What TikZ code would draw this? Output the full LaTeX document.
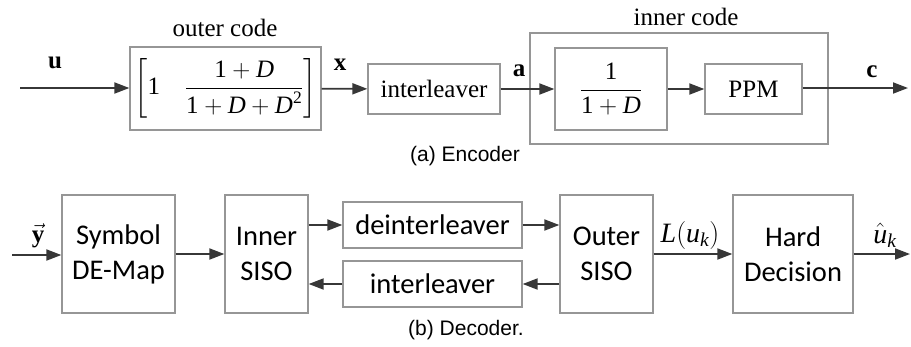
\RequirePackage{fix-cm}
\documentclass[tikz,border=0pt]{standalone}
\usepackage{amsmath}
\usepackage{fontspec}
\setmainfont{Liberation Serif}
\newfontfamily\carlito{Carlito}
\newfontfamily\arial{Liberation Sans}
\usetikzlibrary{arrows.meta,positioning}
\definecolor{boxgray}{RGB}{150,150,150}
\definecolor{arrowgray}{RGB}{55,55,55}
\begin{document}
\begin{tikzpicture}[x=1pt,y=-1pt,
  encbox/.style={draw=boxgray, line width=1.3pt, inner sep=0pt, font=\fontsize{25}{30}\selectfont},
  decbox/.style={draw=boxgray, line width=1.3pt, inner sep=0pt, align=center, font=\carlito\fontsize{28.5}{35}\selectfont},
  sig/.style={draw=arrowgray, line width=1.8pt, -{Triangle[length=15pt,width=11pt]}},
  lbl/.style={inner sep=0pt, font=\fontsize{25}{30}\selectfont},
  capline/.style={inner sep=0pt, font=\arial\fontsize{21}{25}\selectfont}]
\useasboundingbox (0,0) rectangle (911,346);
% encoder
\coordinate (uin) at (20,88);
\node[encbox, minimum width=191pt, minimum height=83pt] (outer) at (225.5,88.5) {$\left[\text{1}\quad\dfrac{\text{1}+\textit{D}}{\text{1}+\textit{D}+\textit{D}^{\text{2}}}\right]$};
\node[lbl] (outerlbl) at (225,28) {outer code};
\node[encbox, minimum width=132pt, minimum height=50pt] (encil) at (434,89) {interleaver};
\node[encbox, minimum width=298pt, minimum height=111pt] (inner) at (679,88.5) {};
\node[lbl] (innerlbl) at (686,17) {inner code};
\node[encbox, minimum width=112pt, minimum height=82pt] (acc) at (611,89) {$\dfrac{\text{1}}{\text{1}+\textit{D}}$};
\node[encbox, minimum width=97pt, minimum height=50pt] (ppm) at (753.5,89) {PPM};
\coordinate (cout) at (908,88);
\draw[sig] (uin) -- (uin -| outer.west);
\draw[sig] (outer) -- (encil);
\draw[sig] (encil) -- (acc);
\draw[sig] (acc) -- (ppm);
\draw[sig] (ppm.east |- cout) -- (cout);
\node[lbl] (ulbl) at (55,63) {\textbf{u}};
\node[lbl] (xlbl) at (340,65) {\textbf{x}};
\node[lbl] (albl) at (519,71) {\textbf{a}};
\node[lbl] (clbl) at (872,72) {\textbf{c}};
\node[capline] (enccap) at (465,156) {(a) Encoder};
% decoder
\coordinate (yin) at (12,255);
\node[decbox, minimum width=113pt, minimum height=118pt] (demap) at (118.5,254) {Symbol\\DE-Map};
\node[decbox, minimum width=83pt, minimum height=118pt] (isiso) at (266.5,254) {Inner\\SISO};
\node[decbox, minimum width=179pt, minimum height=46pt] (deint) at (432.5,225) {deinterleaver};
\node[decbox, minimum width=179pt, minimum height=46pt] (decil) at (432.5,284) {interleaver};
\node[decbox, minimum width=93pt, minimum height=118pt] (osiso) at (606.5,254) {Outer\\SISO};
\node[decbox, minimum width=120pt, minimum height=118pt] (hard) at (793,254) {Hard\\Decision};
\coordinate (uout) at (910,254);
\draw[sig] (yin) -- (yin -| demap.west);
\draw[sig] (demap) -- (isiso);
\draw[sig] (isiso.east |- deint.west) -- (deint.west);
\draw[sig] (deint.east) -- (osiso.west |- deint.east);
\draw[sig] (osiso.west |- decil.east) -- (decil.east);
\draw[sig] (decil.west) -- (isiso.east |- decil.west);
\draw[sig] (osiso) -- (hard);
\draw[sig] (hard.east |- uout) -- (uout);
\node[lbl] (ylbl) at (38,236) {$\vec{\textbf{y}}$};
\node[lbl, font=\fontsize{28}{32}\selectfont] (llbl) at (690,235) {$\textit{L}(\textit{u}_{\textit{k}})$};
\node[lbl, font=\fontsize{28}{32}\selectfont] (uhat) at (885,235) {$\hat{\textit{u}}_{\textit{k}}$};
\node[capline] (deccap) at (466,330) {(b) Decoder.};
\end{tikzpicture}
\end{document}
